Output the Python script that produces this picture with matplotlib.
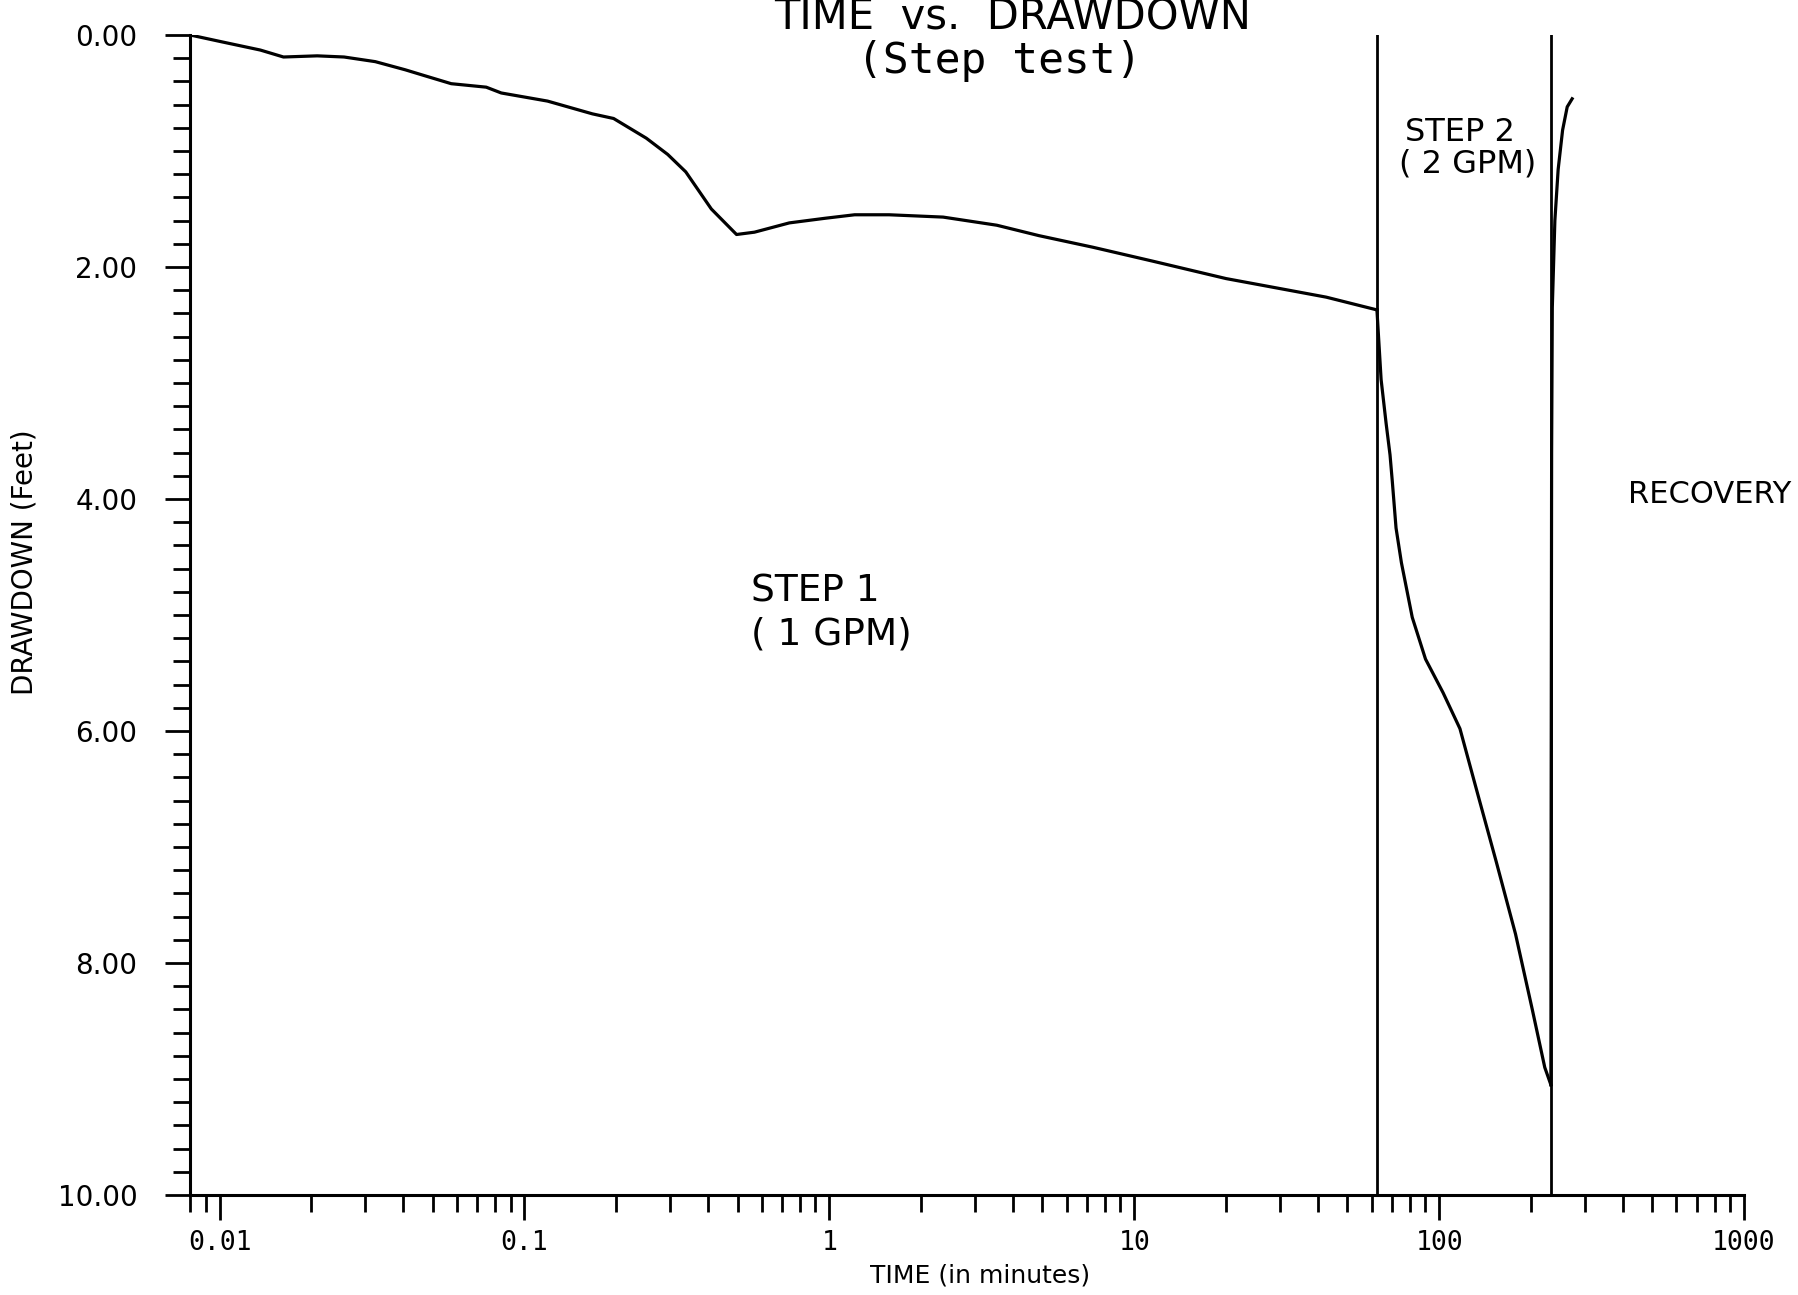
import numpy as np
import matplotlib.pyplot as plt
from matplotlib.ticker import LogLocator, MultipleLocator, NullFormatter

# drawdown (feet) vs time (minutes)
step1_time = [0.008, 0.0102, 0.0136, 0.0162, 0.0209, 0.0256, 0.0324, 0.0406,
              0.0469, 0.0575, 0.0749, 0.0839, 0.119, 0.167, 0.196, 0.251,
              0.295, 0.338, 0.410, 0.496, 0.568, 0.739, 0.969, 1.21, 1.57,
              2.36, 3.54, 4.87, 7.32, 11.5, 20.0, 29.2, 42.6, 62.5]
step1_dd = [0.00, 0.06, 0.13, 0.19, 0.18, 0.19, 0.23, 0.30,
            0.35, 0.42, 0.45, 0.50, 0.57, 0.68, 0.72, 0.89,
            1.03, 1.18, 1.50, 1.72, 1.70, 1.62, 1.58, 1.55, 1.55,
            1.57, 1.64, 1.73, 1.83, 1.95, 2.10, 2.18, 2.26, 2.37]

step2_time = [62.5, 64.5, 67.0, 69.0, 70.2, 72.2, 75.2, 81.6, 90.2, 103.0,
              117.0, 134.0, 154.0, 178.0, 202.0, 222.0, 232.5]
step2_dd = [2.37, 2.97, 3.35, 3.62, 3.85, 4.25, 4.55, 5.02, 5.38, 5.67,
            5.98, 6.55, 7.13, 7.75, 8.40, 8.90, 9.05]

recovery_time = [232.5, 233.0, 233.8, 235.0, 239.6, 245.6, 254.0, 263.0, 273.0]
recovery_dd = [9.05, 6.50, 3.60, 2.35, 1.60, 1.16, 0.82, 0.62, 0.55]

step_change_times = [62.5, 232.0]

x_ticks = [0.01, 0.1, 1, 10, 100, 1000]
x_tick_labels = ["0.01", "0.1", "1", "10", "100", "1000"]
y_ticks = [0, 2, 4, 6, 8, 10]
y_tick_labels = ["0.00", "2.00", "4.00", "6.00", "8.00", "10.00"]

fig = plt.figure(figsize=(17.98, 12.95), dpi=100)
ax = fig.add_axes([0.1057, 0.0772, 0.8643, 0.8958])

for t, d in [(step1_time, step1_dd), (step2_time, step2_dd),
             (recovery_time, recovery_dd)]:
    ax.plot(t, d, color="black", lw=2.3, solid_joinstyle="round")

for tc in step_change_times:
    ax.axvline(tc, color="black", lw=2.0)

ax.set_xscale("log")
ax.set_xlim(0.008, 1000)
ax.set_ylim(10, 0)

ax.set_xticks(x_ticks, labels=x_tick_labels, fontfamily="DejaVu Sans Mono",
              fontsize=19)
ax.xaxis.set_minor_locator(LogLocator(base=10, subs=np.arange(2, 10), numticks=30))
ax.xaxis.set_minor_formatter(NullFormatter())
ax.set_yticks(y_ticks, labels=y_tick_labels, fontsize=20)
ax.yaxis.set_minor_locator(MultipleLocator(0.2))

for side in ["top", "right"]:
    ax.spines[side].set_visible(False)
for side in ["left", "bottom"]:
    ax.spines[side].set_linewidth(2.2)

ax.tick_params(which="major", length=18, width=2, direction="out")
ax.tick_params(which="minor", length=12, width=2, direction="out")
ax.tick_params(axis="x", pad=7)
ax.tick_params(axis="y", pad=20)

# step annotations
ax.text(0.554, 4.80, "STEP 1", fontsize=27, ha="left", va="center")
ax.text(0.554, 5.17, "( 1 GPM)", fontsize=27, ha="left", va="center")
ax.text(77.0, 0.84, "STEP 2", fontsize=23, ha="left", va="center")
ax.text(74.0, 1.11, "( 2 GPM)", fontsize=23, ha="left", va="center")
ax.text(416, 3.96, "RECOVERY", fontsize=22, ha="left", va="center")

fig.text(0.563, 0.9776, "TIME  vs.  DRAWDOWN", ha="center", va="baseline",
         fontsize=30)
fig.text(0.556, 0.944, "(Step test)", ha="center", va="baseline",
         fontsize=31, family="DejaVu Sans Mono")
fig.text(0.0139, 0.566, "DRAWDOWN (Feet)", rotation=90, ha="center",
         va="center", fontsize=20)
fig.text(0.545, 0.0147, "TIME (in minutes)", ha="center", va="center",
         fontsize=18)

fig.savefig("out.png", dpi=100)
